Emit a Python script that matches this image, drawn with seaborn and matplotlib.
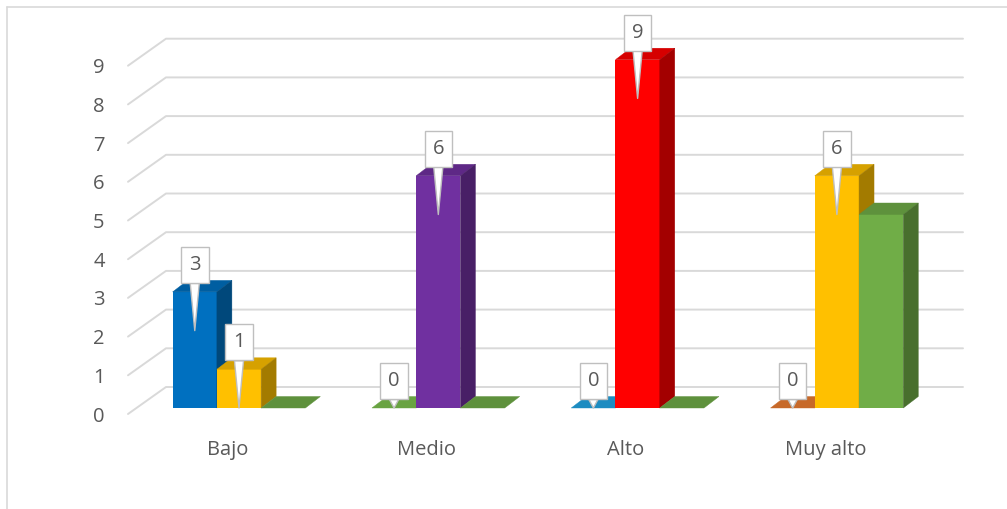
import numpy as np
import pandas as pd
import seaborn as sns
import matplotlib.pyplot as plt
from matplotlib.patches import Polygon
from matplotlib.colors import to_rgb
from matplotlib.lines import Line2D

# datos del grafico
niveles = ["Bajo", "Medio", "Alto", "Muy alto"]
serie_1 = [3, 0, 0, 0]
serie_2 = [1, 6, 9, 6]
serie_3 = [0, 0, 0, 5]
colores_1 = ["#0070C0", "#7DC24F", "#22A7E6", "#ED7D31"]
colores_2 = ["#FFC000", "#7030A0", "#FF0000", "#FFC000"]
colores_3 = ["#70AD47", "#70AD47", "#70AD47", "#70AD47"]
con_etiqueta = [True, True, False]
y_ticks = list(range(10))

df = pd.DataFrame({
    "nivel": niveles * 3,
    "serie": ["s1"] * 4 + ["s2"] * 4 + ["s3"] * 4,
    "valor": serie_1 + serie_2 + serie_3,
})
colores = [colores_1, colores_2, colores_3]

sns.set_style("white")
plt.rcParams["font.family"] = ["Open Sans", "DejaVu Sans"]
gris_texto = "#595959"
gris_linea = "#D9D9D9"
fs = 14.5

fig = plt.figure(figsize=(10.07, 5.09), dpi=100)
ax = fig.add_axes([128 / 1007, 101 / 509, 797 / 1007, 387 / 509])
sns.barplot(data=df, x="nivel", y="valor", hue="serie", width=0.666,
            errorbar=None, legend=False, linewidth=0, ax=ax,
            palette=["#0070C0", "#FFC000", "#70AD47"])
ax.set_xlim(-0.557, 3.442)
ax.set_ylim(0, 10)
ax.axis("off")

# pixeles por unidad de datos
p0 = ax.transData.transform((0, 0))
p1 = ax.transData.transform((1, 1))
ppx = p1[0] - p0[0]
ppy = p1[1] - p0[1]
xl0, xl1 = ax.get_xlim()


def sombra(c, f):
    return tuple(np.array(to_rgb(c)) * f)


# lineas de cuadricula con fondo en perspectiva
gdx, gdy, fdy = 38 / ppx, 21 / ppy, 6 / ppy
for k in y_ticks:
    ax.plot([xl0, xl0 + gdx, xl1 + gdx], [k - fdy, k + gdy, k + gdy],
            color=gris_linea, lw=1.4, zorder=1, clip_on=False)
    ax.text(xl0 - 29 / ppx, k - 8.5 / ppy, str(k), ha="center", va="center",
            fontsize=fs, color=gris_texto)

for i, nivel in enumerate(niveles):
    ax.text(i - 11.5 / ppx, -42 / ppy, nivel, ha="center", va="center",
            fontsize=fs, color=gris_texto)

# barras en falso 3D
ddx, ddy = 15 / ppx, 11.5 / ppy
for j, cont in enumerate(ax.containers):
    for i, bar in enumerate(cont):
        c = colores[j][i]
        x0, w, h = bar.get_x(), bar.get_width(), bar.get_height()
        bar.set_facecolor(c)
        bar.set_zorder(3 + j)
        top = [(x0, h), (x0 + w, h), (x0 + w + ddx, h + ddy), (x0 + ddx, h + ddy)]
        side = [(x0 + w, 0), (x0 + w + ddx, ddy), (x0 + w + ddx, h + ddy), (x0 + w, h)]
        ax.add_patch(Polygon(top, closed=True, fc=sombra(c, 0.84), ec=sombra(c, 0.84),
                             lw=0.3, zorder=3 + j, clip_on=False))
        if h > 0:
            ax.add_patch(Polygon(side, closed=True, fc=sombra(c, 0.64), ec=sombra(c, 0.64),
                                 lw=0.3, zorder=3 + j, clip_on=False))
        if con_etiqueta[j]:
            xc = x0 + w / 2
            ax.annotate(f"{h:.0f}", xy=(xc, max(h - 1, 0)),
                        xytext=(xc, h + 17 / ppy), textcoords="data",
                        ha="center", va="bottom", fontsize=fs, color=gris_texto,
                        bbox=dict(boxstyle="square,pad=0.4", fc="white", ec="#BFBFBF", lw=1),
                        arrowprops=dict(arrowstyle="wedge,tail_width=0.45",
                                        fc="white", ec="#BFBFBF", lw=1,
                                        shrinkA=0, shrinkB=0),
                        zorder=10, annotation_clip=False)

# borde del area del grafico
fig.add_artist(Line2D([7 / 1007, 7 / 1007], [0, 1 - 7 / 509], color=gris_linea, lw=1.2))
fig.add_artist(Line2D([7 / 1007, 1], [1 - 7 / 509, 1 - 7 / 509], color=gris_linea, lw=1.2))

fig.savefig("out.png", dpi=100)
